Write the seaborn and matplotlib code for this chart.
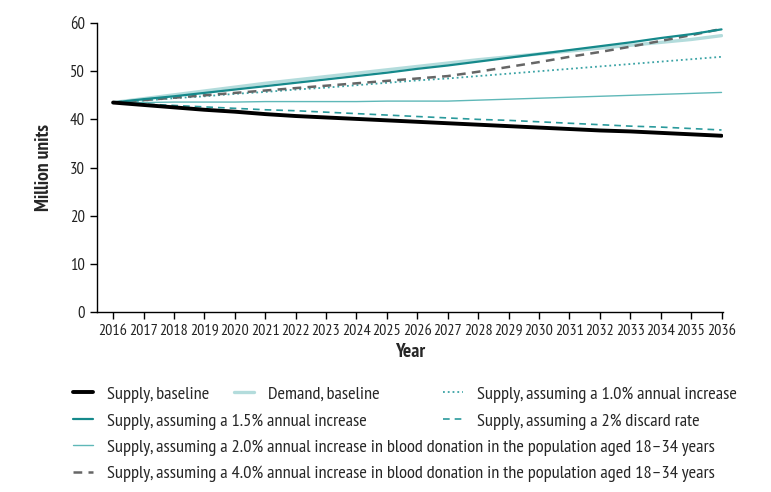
import matplotlib
matplotlib.use("Agg")
import matplotlib.pyplot as plt
import seaborn as sns

years = list(range(2016, 2037))

supply_baseline = [43.5, 43.0, 42.5, 42.0, 41.6, 41.1, 40.7, 40.4, 40.1, 39.8, 39.5,
                   39.2, 38.9, 38.6, 38.3, 38.0, 37.7, 37.5, 37.2, 36.9, 36.6]
demand_baseline = [43.5, 44.3, 45.1, 45.9, 46.7, 47.5, 48.2, 48.9, 49.6, 50.3, 51.0,
                   51.7, 52.4, 53.0, 53.6, 54.2, 54.8, 55.4, 56.0, 56.6, 57.4]
supply_1_0 = [43.5, 43.9, 44.4, 44.8, 45.3, 45.7, 46.2, 46.6, 47.1, 47.6, 48.1,
              48.5, 49.0, 49.5, 50.0, 50.5, 51.0, 51.5, 52.0, 52.5, 53.0]
supply_1_5 = [43.5, 44.2, 44.8, 45.5, 46.2, 46.9, 47.6, 48.3, 49.0, 49.7, 50.5,
              51.2, 52.0, 52.8, 53.6, 54.4, 55.2, 56.0, 56.9, 57.7, 58.7]
supply_discard = [43.5, 43.2, 42.9, 42.6, 42.3, 42.0, 41.8, 41.5, 41.2, 40.9, 40.6,
                  40.3, 40.0, 39.8, 39.5, 39.2, 38.9, 38.6, 38.4, 38.1, 37.8]
supply_2_0_young = [43.5, 43.5, 43.6, 43.6, 43.6, 43.7, 43.7, 43.7, 43.7, 43.8, 43.8,
                    43.8, 44.0, 44.2, 44.4, 44.6, 44.8, 45.0, 45.2, 45.4, 45.6]
supply_4_0_young = [43.5, 44.0, 44.5, 45.0, 45.5, 46.0, 46.5, 47.0, 47.5, 48.0, 48.5,
                    49.0, 49.9, 50.9, 51.9, 53.0, 54.0, 55.1, 56.3, 57.5, 58.8]

series = [
    ("Demand, baseline", demand_baseline, "#b3dcdc", "-", 2.4),
    ("Supply, assuming a 2.0% annual increase in blood donation in the population aged 18\u201334 years",
     supply_2_0_young, "#5fb8b8", "-", 1.0),
    ("Supply, assuming a 1.0% annual increase", supply_1_0, "#3aa3a5", ":", 1.3),
    ("Supply, assuming a 2% discard rate", supply_discard, "#2a9a9c", (0, (4, 3)), 1.2),
    ("Supply, assuming a 4.0% annual increase in blood donation in the population aged 18\u201334 years",
     supply_4_0_young, "#666666", (0, (3.5, 2.5)), 1.8),
    ("Supply, assuming a 1.5% annual increase", supply_1_5, "#15898b", "-", 1.6),
    ("Supply, baseline", supply_baseline, "#000000", "-", 2.8),
]

sns.set_style("ticks")
plt.rcParams["font.family"] = ["PT Sans Narrow", "DejaVu Sans"]

fig = plt.figure(figsize=(7.71, 4.92), dpi=100)
ax = fig.add_axes([0.1258, 0.366, 0.812, 0.587])

lines = {}
for name, vals, col, ls, lw in series:
    sns.lineplot(x=years, y=vals, ax=ax, color=col, linestyle=ls, linewidth=lw,
                 label=name, legend=False)
    lines[name] = ax.get_lines()[-1]

ax.set_xlim(2015.47, 2036.05)
ax.set_ylim(0, 60)
ax.set_xticks(years)
ax.set_yticks(range(0, 61, 10))
ax.tick_params(axis="both", direction="out", length=5, width=1, color="black",
               labelsize=12, labelcolor="#222222")
ax.tick_params(axis="x", labelsize=11.5)
for s in ["top", "right"]:
    ax.spines[s].set_visible(False)
for s in ["left", "bottom"]:
    ax.spines[s].set_color("black")
    ax.spines[s].set_linewidth(1)
ax.set_xlabel("Year", fontsize=14, fontweight="bold", labelpad=4)
ax.set_ylabel("Million units", fontsize=14, fontweight="bold", labelpad=12)

# legend entries placed like the reference, one per slot
slots = [
    ("Supply, baseline", 0.095, 0.199),
    ("Demand, baseline", 0.303, 0.199),
    ("Supply, assuming a 1.0% annual increase", 0.575, 0.199),
    ("Supply, assuming a 1.5% annual increase", 0.095, 0.144),
    ("Supply, assuming a 2% discard rate", 0.575, 0.144),
    ("Supply, assuming a 2.0% annual increase in blood donation in the population aged 18\u201334 years",
     0.095, 0.091),
    ("Supply, assuming a 4.0% annual increase in blood donation in the population aged 18\u201334 years",
     0.095, 0.037),
]
for name, x0, y0 in slots:
    fig.legend(handles=[lines[name]], labels=[name], loc="center left",
               bbox_to_anchor=(x0, y0), frameon=False, fontsize=13.2,
               handlelength=1.1, handletextpad=0.75, borderpad=0, borderaxespad=0)

fig.savefig("out.png", dpi=100)
